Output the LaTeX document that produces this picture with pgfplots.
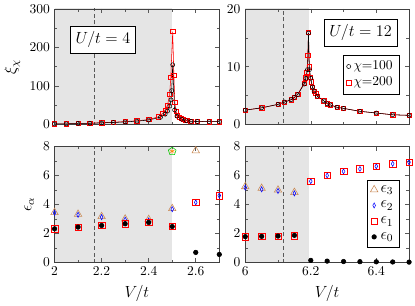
\documentclass[border=0pt]{standalone}
\usepackage{pgfplots}
\pgfplotsset{compat=1.18}
\definecolor{ethree}{RGB}{200,135,80}
\definecolor{shade}{gray}{0.9}
\definecolor{dashcol}{gray}{0.35}
\pgfplotsset{
  myax/.style={
    scale only axis, anchor=south west, axis on top,
    major tick length=3pt, minor tick length=2pt,
    minor tick num=1,
    axis line style={black!75},
    every tick/.style={black!65, thin},
    tick label style={font=\normalsize},
    label style={font=\large},
    clip=true,
  },
  leftax/.style={myax, width=122.1pt, xmin=2, xmax=2.7, xtick={2,2.2,2.4,2.6}},
  rightax/.style={myax, width=121.4pt, xmin=6, xmax=6.5, xtick={6,6.2,6.4}},
  topax/.style={height=85.8pt, xticklabels={}},
  botax/.style={height=85.8pt, ymin=0, ymax=8, ytick={0,2,4,6,8}, xlabel={$V/t$},
    xticklabel style={/pgf/number format/fixed}},
  chiA/.style={black, thin, mark=o, mark size=1.5pt, mark options={solid, fill=white}},
  chiB/.style={red, thin, mark=square, mark size=1.6pt, mark options={solid}},
  eps3/.style={only marks, ethree, mark=triangle, mark size=3.2pt},
  eps2/.style={only marks, blue, mark=diamond, mark size=1.9pt, mark options={xscale=0.7, fill=blue!10}},
  eps1/.style={only marks, red, mark=square, mark size=2.4pt},
  eps0/.style={only marks, black, mark=*, mark size=1.7pt},
  onlymarkslegend/.style={legend image code/.code={\draw[##1, only marks] plot coordinates {(0.12cm,0cm)};}},
  vdash/.style={dashcol, dash pattern=on 3pt off 2pt, forget plot},
}
\begin{document}
\begin{tikzpicture}
\path (0,0) rectangle (307.1pt,220.5pt);
% top-left
\begin{axis}[leftax, topax, at={(39.96pt,129.5pt)}, ymin=0, ymax=300, ytick={0,100,200,300}, ylabel={$\xi_\chi$}]
\addplot[fill=shade, draw=none, forget plot] coordinates {(2,-20) (2.5,-20) (2.5,320) (2,320)} -- cycle;
\addplot[vdash] coordinates {(2.167,-20) (2.167,320)};
\addplot[chiB] coordinates {
(2.0,2)(2.05,2)(2.1,3)(2.15,3.5)(2.2,5)(2.25,6)(2.3,8)(2.35,10)(2.4,13)(2.44,20)(2.46,29)(2.47,38)(2.48,50)(2.489,78)(2.494,122)(2.502,241)(2.507,128)(2.511,58)(2.516,34)(2.522,25)(2.53,19)(2.538,16)(2.546,14)(2.555,12)(2.565,11)(2.579,9)(2.607,8.5)(2.657,7.5)(2.7,7.5)};
\addplot[chiA] coordinates {
(2.0,2)(2.05,2)(2.1,3)(2.15,3.5)(2.2,4.5)(2.25,5.5)(2.3,7)(2.35,9)(2.4,12)(2.45,19)(2.47,27)(2.48,35)(2.49,48)(2.495,64)(2.498,88)(2.502,155)(2.51,38)(2.52,22)(2.54,14)(2.56,10)(2.58,8.5)(2.607,8)(2.657,7.5)(2.7,7.5)};
\node[draw=black, fill=white, font=\large, inner sep=4pt] at (rel axis cs:0.294,0.733) {$U/t=4$};
\end{axis}
% top-right
\begin{axis}[rightax, topax, at={(181.3pt,129.5pt)}, ymin=0, ymax=20, ytick={0,10,20},
  onlymarkslegend, reverse legend,
  legend style={at={(rel axis cs:0.939,0.603)}, anchor=north east, draw=black, fill=white, font=\normalsize, row sep=0pt, inner sep=2.5pt},
  legend cell align=left]
\addplot[fill=shade, draw=none, forget plot] coordinates {(6,-2) (6.194,-2) (6.194,22) (6,22)} -- cycle;
\addplot[vdash] coordinates {(6.117,-2) (6.117,22)};
\addplot[chiB] coordinates {
(6.0,2.5)(6.05,2.9)(6.10,3.5)(6.12,3.9)(6.14,4.3)(6.15,4.7)(6.16,5.2)(6.18,7.2)(6.184,8.1)(6.188,9.0)(6.191,12)(6.193,15.9)(6.195,10)(6.198,8.2)(6.201,7.4)(6.205,6.5)(6.21,5.8)(6.215,5.4)(6.22,4.9)(6.24,4.1)(6.25,3.6)(6.26,3.4)(6.28,3.0)(6.30,2.8)(6.35,2.3)(6.40,2.0)(6.45,1.7)(6.50,1.6)};
\addlegendentry{$\chi{=}200$}
\addplot[chiA] coordinates {
(6.0,2.5)(6.05,2.9)(6.10,3.5)(6.12,3.9)(6.14,4.3)(6.15,4.7)(6.16,5.2)(6.18,7.0)(6.185,8.0)(6.19,9.5)(6.193,15.8)(6.196,9.5)(6.2,8)(6.205,6.5)(6.21,5.8)(6.22,4.9)(6.24,4.1)(6.25,3.6)(6.26,3.4)(6.28,3.0)(6.30,2.8)(6.35,2.3)(6.40,2.0)(6.45,1.7)(6.50,1.6)};
\addlegendentry{$\chi{=}100$}
\node[draw=black, fill=white, font=\large, inner sep=4pt] at (rel axis cs:0.704,0.797) {$U/t=12$};
\end{axis}
% bottom-left
\begin{axis}[leftax, botax, at={(39.96pt,27.38pt)}, ylabel={$\epsilon_\alpha$}]
\addplot[fill=shade, draw=none, forget plot] coordinates {(2,-1) (2.5,-1) (2.5,9) (2,9)} -- cycle;
\addplot[vdash] coordinates {(2.167,-1) (2.167,9)};
\addplot[eps3] coordinates {(2.0,3.45)(2.1,3.33)(2.2,3.17)(2.3,3.0)(2.4,2.97)(2.5,3.72)(2.6,7.72)};
\addplot[eps2] coordinates {(2.0,3.43)(2.1,3.29)(2.2,3.13)(2.3,2.95)(2.4,2.9)(2.5,3.68)(2.6,4.15)(2.7,4.62)};
\addplot[eps1] coordinates {(2.0,2.32)(2.1,2.44)(2.2,2.55)(2.3,2.67)(2.4,2.76)(2.5,2.48)(2.6,4.15)(2.7,4.62)};
\addplot[eps0] coordinates {(2.0,2.32)(2.1,2.44)(2.2,2.55)(2.3,2.67)(2.4,2.76)(2.5,2.48)(2.6,0.69)(2.7,0.55)};
\addplot[only marks, green!80!black, mark=pentagon, mark size=3pt, forget plot] coordinates {(2.5,7.68)};
\addplot[only marks, orange, mark=asterisk, mark size=2pt, forget plot] coordinates {(2.5,7.68)};
\end{axis}
% bottom-right
\begin{axis}[rightax, botax, at={(181.3pt,27.38pt)},
  onlymarkslegend,
  legend style={at={(rel axis cs:0.939,0.716)}, anchor=north east, draw=black, fill=white, font=\large, row sep=1pt, inner sep=2pt},
  legend cell align=left]
\addplot[fill=shade, draw=none, forget plot] coordinates {(6,-1) (6.194,-1) (6.194,9) (6,9)} -- cycle;
\addplot[vdash] coordinates {(6.117,-1) (6.117,9)};
\addplot[eps3] coordinates {(6.0,5.24)(6.05,5.12)(6.1,5.0)(6.15,4.84)};
\addlegendentry{$\epsilon_3$}
\addplot[eps2] coordinates {(6.0,5.17)(6.05,5.05)(6.1,4.94)(6.15,4.77)(6.2,5.61)(6.25,6.01)(6.3,6.29)(6.35,6.46)(6.4,6.64)(6.45,6.81)(6.5,6.92)};
\addlegendentry{$\epsilon_2$}
\addplot[eps1] coordinates {(6.0,1.78)(6.05,1.8)(6.1,1.82)(6.15,1.85)(6.2,5.61)(6.25,6.01)(6.3,6.29)(6.35,6.46)(6.4,6.64)(6.45,6.81)(6.5,6.92)};
\addlegendentry{$\epsilon_1$}
\addplot[eps0] coordinates {(6.0,1.78)(6.05,1.8)(6.1,1.82)(6.15,1.87)(6.2,0.14)(6.25,0.09)(6.3,0.06)(6.35,0.05)(6.4,0.04)(6.45,0.03)(6.5,0.02)};
\addlegendentry{$\epsilon_0$}
\end{axis}
\end{tikzpicture}
\end{document}
